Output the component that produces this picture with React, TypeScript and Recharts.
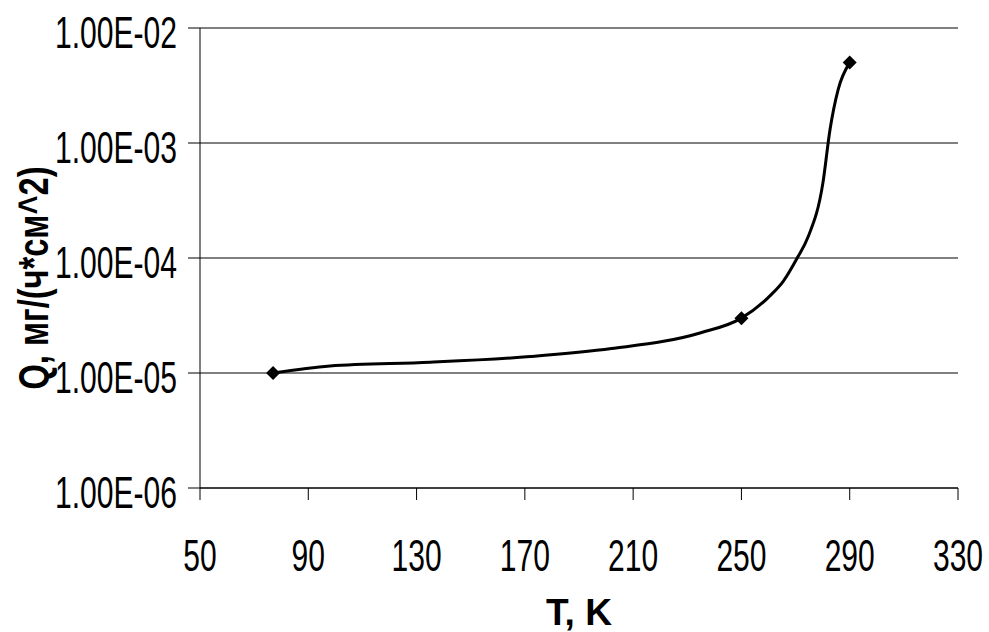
import {
  ComposedChart,
  Line,
  Scatter,
  XAxis,
  YAxis,
  CartesianGrid,
} from 'recharts';

// smoothed curve, T in K, Q in mg/(h*cm^2)
const curveT = [77, 98, 135, 172, 202, 235, 250, 261, 265.5, 270.6, 274.6, 280.1, 282.7, 285.7, 290];
const curveQ = [1.0e-5, 1.15e-5, 1.24e-5, 1.39e-5, 1.63e-5, 2.24e-5, 3.0e-5, 4.8e-5, 6.3e-5, 1.0e-4, 1.52e-4, 4.5e-4, 1.3e-3, 2.9e-3, 5.0e-3];

// measured points (diamonds)
const pointT = [77, 250, 290];
const pointQ = [1.0e-5, 3.0e-5, 5.0e-3];

const xTicks = [50, 90, 130, 170, 210, 250, 290, 330];
const yTicks = [1e-6, 1e-5, 1e-4, 1e-3, 1e-2];

const xTitle = 'T, K';
const yTitle = 'Q, мг/(ч*см^2)';

const curve = curveT.map((t, i) => ({ t, q: curveQ[i] }));
const points = pointT.map((t, i) => ({ t, q: pointQ[i] }));

const font = '"Liberation Sans", Arial, sans-serif';

function excelSci(v: number) {
  const exp = Math.round(Math.log10(v));
  const mant = v / Math.pow(10, exp);
  const sign = exp < 0 ? '-' : '+';
  const e = String(Math.abs(exp)).padStart(2, '0');
  return `${mant.toFixed(2)}E${sign}${e}`;
}

const XTick = (props: any) => {
  const { x, y, payload } = props;
  const label = String(payload.value);
  return (
    <text
      x={x}
      y={y + 71}
      textAnchor="middle"
      fontFamily={font}
      fontSize={44}
      fill="#000"
      textLength={label.length * 16.7}
      lengthAdjust="spacingAndGlyphs"
    >
      {label}
    </text>
  );
};

const YTick = (props: any) => {
  const { x, y, payload } = props;
  return (
    <text
      x={x - 11}
      y={y + 20}
      textAnchor="end"
      fontFamily={font}
      fontSize={44}
      fill="#000"
      textLength={122}
      lengthAdjust="spacingAndGlyphs"
    >
      {excelSci(payload.value)}
    </text>
  );
};

const Diamond = (props: any) => {
  const { cx, cy } = props;
  const r = 7;
  return (
    <polygon
      points={`${cx},${cy - r} ${cx + r},${cy} ${cx},${cy + r} ${cx - r},${cy}`}
      fill="#000"
    />
  );
};

export default function App() {
  return (
    <div style={{ position: 'absolute', left: 0, top: 0, background: '#fff' }}>
      <ComposedChart
        width={989}
        height={632}
        margin={{ top: 28, right: 31, bottom: 84, left: 0 }}
      >
        <CartesianGrid vertical={false} stroke="#000" strokeWidth={1} />
        <XAxis
          type="number"
          dataKey="t"
          domain={[50, 330]}
          ticks={xTicks}
          interval={0}
          height={60}
          tickSize={12}
          tickMargin={0}
          stroke="#000"
          tick={<XTick />}
          label={{
            position: 'insideBottom',
            content: (p: any) => {
              const vb = p.viewBox;
              return (
                <text
                  x={vb.x + vb.width / 2}
                  y={625}
                  textAnchor="middle"
                  fontFamily={font}
                  fontWeight="bold"
                  fontSize={37}
                  fill="#000"
                  textLength={66}
                  lengthAdjust="spacingAndGlyphs"
                >
                  {xTitle}
                </text>
              );
            },
          }}
        />
        <YAxis
          type="number"
          dataKey="q"
          scale="log"
          domain={[1e-6, 1e-2]}
          ticks={yTicks}
          interval={0}
          allowDataOverflow
          width={200}
          tickSize={12}
          tickMargin={0}
          stroke="#000"
          tick={<YTick />}
          label={{
            position: 'insideLeft',
            content: () => (
              <text
                x={48}
                y={278}
                transform="rotate(-90 48 278)"
                textAnchor="middle"
                fontFamily={font}
                fontWeight="bold"
                fontSize={42}
                fill="#000"
                textLength={223}
                lengthAdjust="spacingAndGlyphs"
              >
                {yTitle}
              </text>
            ),
          }}
        />
        <Line
          data={curve}
          dataKey="q"
          type="monotone"
          stroke="#000"
          strokeWidth={3}
          dot={false}
          isAnimationActive={false}
        />
        <Scatter
          data={points}
          dataKey="q"
          shape={<Diamond />}
          isAnimationActive={false}
        />
      </ComposedChart>
    </div>
  );
}
